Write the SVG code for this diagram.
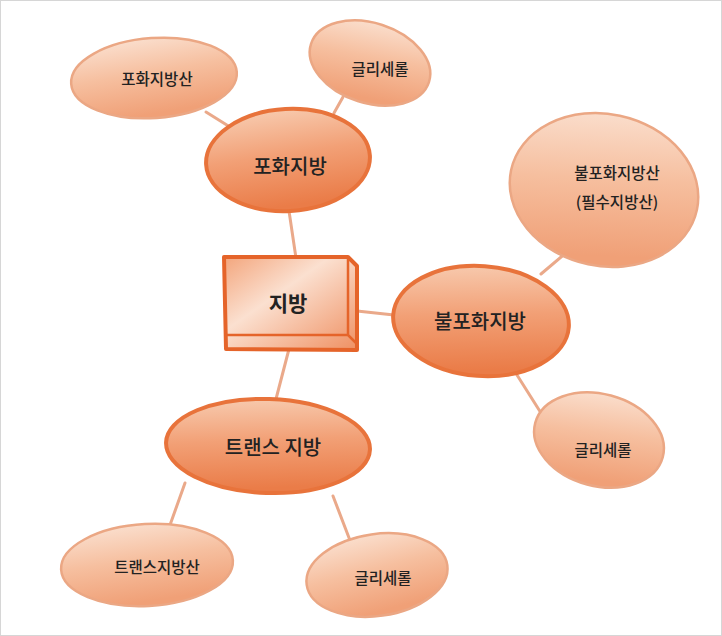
<svg xmlns="http://www.w3.org/2000/svg" width="722" height="636" viewBox="0 0 722 636">
<defs>
<linearGradient id="gSmall" x1="0" y1="0" x2="0.2" y2="1">
<stop offset="0" stop-color="#fbe3d4"/>
<stop offset="0.5" stop-color="#f6bf9f"/>
<stop offset="1" stop-color="#f0a077"/>
</linearGradient>
<linearGradient id="gMain" x1="0" y1="0" x2="0.15" y2="1">
<stop offset="0" stop-color="#f8cfb5"/>
<stop offset="0.5" stop-color="#f2a076"/>
<stop offset="1" stop-color="#ea7c48"/>
</linearGradient>
<linearGradient id="gBox" x1="0" y1="0" x2="1" y2="1">
<stop offset="0" stop-color="#f3a57c"/>
<stop offset="0.4" stop-color="#fbe0d0"/>
<stop offset="1" stop-color="#ef9062"/>
</linearGradient>
<style>
.small{fill:url(#gSmall);stroke:#eba784;stroke-width:2.5}
.main{fill:url(#gMain);stroke:#e8733b;stroke-width:4}
.edge{stroke:#eaa98a;stroke-width:3;fill:none;stroke-linecap:round}
.t{font-family:"Noto Sans CJK KR","Noto Sans",sans-serif;fill:#222;text-anchor:middle;font-weight:500}
.ts{font-size:15.5px}
.tm{font-size:20px}
.tb{font-size:21px;font-weight:bold}
</style>
</defs>
<rect x="0.5" y="0.5" width="721" height="635" fill="#ffffff" stroke="#d6d6d6" stroke-width="1"/>
<g id="connectors">
<line class="edge" x1="206" y1="112" x2="230" y2="127"/>
<line class="edge" x1="343" y1="97" x2="334" y2="113"/>
<line class="edge" x1="289" y1="211" x2="296" y2="258"/>
<line class="edge" x1="357" y1="311" x2="394" y2="315"/>
<line class="edge" x1="289" y1="349" x2="276" y2="399"/>
<line class="edge" x1="541" y1="274" x2="567" y2="252"/>
<line class="edge" x1="517" y1="375" x2="541" y2="413"/>
<line class="edge" x1="185" y1="483" x2="170" y2="525"/>
<line class="edge" x1="333" y1="496" x2="351" y2="543"/>
</g>
<g id="n-saturated-fa">
<ellipse class="small" cx="154" cy="78" rx="83" ry="40" transform="rotate(-4 154 78)"/>
<text class="t ts" x="157" y="85">포화지방산</text>
</g>
<g id="n-glycerol-top">
<ellipse class="small" cx="370" cy="63" rx="62" ry="40" transform="rotate(18 370 63)"/>
<text class="t ts" x="380" y="75">글리세롤</text>
</g>
<g id="n-saturated">
<ellipse class="main" cx="288" cy="160" rx="82" ry="51" transform="rotate(-3 288 160)"/>
<text class="t tm" x="290" y="174">포화지방</text>
</g>
<g id="n-fat">
<path d="M224,257 L348,257 L357,266 L357,350 L226,349 Z" fill="url(#gBox)" stroke="#e5642a" stroke-width="4" stroke-linejoin="round"/>
<path d="M348,258 L348,335 L225,335 M348,335 L357,344" fill="none" stroke="#e5642a" stroke-width="2.5"/>
<text class="t tb" x="288" y="311">지방</text>
</g>
<g id="n-unsaturated-fa">
<ellipse class="small" cx="604" cy="190" rx="95" ry="76" transform="rotate(12 604 190)"/>
<text class="t ts" x="617" y="179">불포화지방산</text>
<text class="t ts" x="617" y="208">(필수지방산)</text>
</g>
<g id="n-unsaturated">
<ellipse class="main" cx="481" cy="321" rx="88" ry="55" transform="rotate(4 481 321)"/>
<text class="t tm" x="480" y="329">불포화지방</text>
</g>
<g id="n-glycerol-right">
<ellipse class="small" cx="599" cy="440" rx="66" ry="46" transform="rotate(15 599 440)"/>
<text class="t ts" x="603" y="456">글리세롤</text>
</g>
<g id="n-trans">
<ellipse class="main" cx="268" cy="446" rx="102" ry="47" transform="rotate(2 268 446)"/>
<text class="t tm" x="273" y="455">트랜스 지방</text>
</g>
<g id="n-trans-fa">
<ellipse class="small" cx="147" cy="565" rx="86" ry="41" transform="rotate(-3 147 565)"/>
<text class="t ts" x="157" y="573">트랜스지방산</text>
</g>
<g id="n-glycerol-bottom">
<ellipse class="small" cx="377" cy="575" rx="71" ry="41" transform="rotate(-8 377 575)"/>
<text class="t ts" x="383" y="584">글리세롤</text>
</g>
</svg>
